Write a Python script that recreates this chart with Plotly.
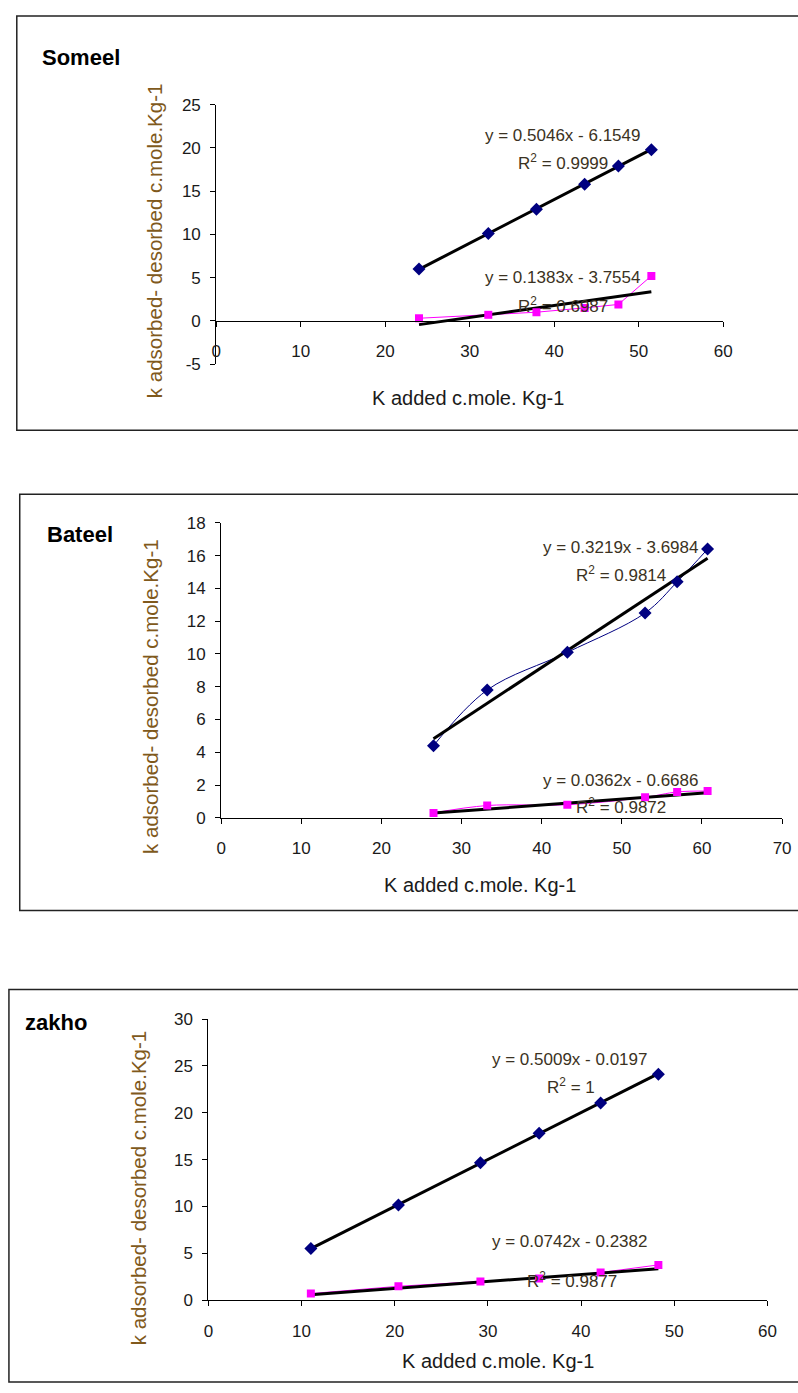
import plotly.graph_objects as go
import numpy as np

W, H = 798, 1393

# ---------------- data ----------------
panel_names = ["Someel", "Bateel", "zakho"]

someel_x = [24.0, 32.2, 37.9, 43.6, 47.6, 51.5]
someel_y1 = [6.0, 10.1, 12.9, 15.8, 17.9, 19.8]
someel_y2 = [0.3, 0.7, 1.0, 1.5, 1.9, 5.2]

bateel_x = [26.5, 33.2, 43.2, 52.9, 56.9, 60.7]
bateel_y1 = [4.4, 7.8, 10.1, 12.5, 14.4, 16.4]
bateel_y2 = [0.3, 0.75, 0.8, 1.25, 1.58, 1.63]

zakho_x = [11.0, 20.4, 29.2, 35.5, 42.1, 48.3]
zakho_y1 = [5.5, 10.15, 14.65, 17.8, 21.05, 24.1]
zakho_y2 = [0.7, 1.48, 2.0, 2.3, 2.95, 3.76]

# trendline coefficients (slope, intercept) and R² as printed
someel_fit1 = (0.5046, -6.1549, "0.9999")
someel_fit2 = (0.1383, -3.7554, "0.6987")
bateel_fit1 = (0.3219, -3.6984, "0.9814")
bateel_fit2 = (0.0362, -0.6686, "0.9872")
zakho_fit1 = (0.5009, -0.0197, "1")
zakho_fit2 = (0.0742, -0.2382, "0.9877")

x_title = "K added c.mole. Kg-1"
y_title = "k adsorbed- desorbed c.mole.Kg-1"

# ---------------- layout helpers ----------------
def px(x):
    return x / W

def py(y):
    return 1 - y / H

FONT = "Liberation Sans, Arial, sans-serif"
NAVY = "#000080"
MAGENTA = "#FF00FF"
TICK_COLOR = "#1a1a1a"
YT_COLOR = "#80591c"
EQ_COLOR = "#3b3222"

panels = [
    dict(name="Someel", x=someel_x, y1=someel_y1, y2=someel_y2,
         fit1=someel_fit1, fit2=someel_fit2, shape="linear",
         xdom=(215, 731), ydom=(97, 360), xr=(0, 60), xd=10, yr=(-5, 25), yd=5,
         xaxis_y=316,
         frame=(12, 7, 1000, 427),
         title_pos=(36, 49), xt_pos=(471, 394), yt_pos=(152, 235),
         eq1=(567, 128), r1=(568, 155), eq2=(567, 272), r2=(568, 300)),
    dict(name="Bateel", x=bateel_x, y1=bateel_y1, y2=bateel_y2,
         fit1=bateel_fit1, fit2=bateel_fit2, shape="spline",
         xdom=(220, 791), ydom=(521, 820), xr=(0, 70), xd=10, yr=(0, 18), yd=2,
         xaxis_y=None,
         frame=(15, 492, 1000, 914),
         title_pos=(41, 533), xt_pos=(483, 888), yt_pos=(148, 697),
         eq1=(626, 546), r1=(627, 573), eq2=(626, 782), r2=(627, 808)),
    dict(name="zakho", x=zakho_x, y1=zakho_y1, y2=zakho_y2,
         fit1=zakho_fit1, fit2=zakho_fit2, shape="linear",
         xdom=(207, 776), ydom=(1024, 1309), xr=(0, 60), xd=10, yr=(0, 30), yd=5,
         xaxis_y=None,
         frame=(4, 994, 1000, 1392),
         title_pos=(18, 1028), xt_pos=(502, 1371), yt_pos=(136, 1195),
         eq1=(575, 1065), r1=(576, 1092), eq2=(575, 1250), r2=(577, 1289)),
]

fig = go.Figure()
annotations = []
shapes = []

for i, p in enumerate(panels):
    n = "" if i == 0 else str(i + 1)
    xa, ya = "x" + n, "y" + n
    xs = np.array(p["x"])
    # series lines
    for ys, col in ((p["y1"], NAVY), (p["y2"], MAGENTA)):
        fig.add_trace(go.Scatter(x=xs, y=ys, mode="lines",
                                 line=dict(color=col, width=1, shape=p["shape"]),
                                 xaxis=xa, yaxis=ya, showlegend=False, hoverinfo="skip"))
    # trendlines
    for fit in (p["fit1"], p["fit2"]):
        m, b, _ = fit
        tx = np.array([xs.min(), xs.max()])
        fig.add_trace(go.Scatter(x=tx, y=m * tx + b, mode="lines",
                                 line=dict(color="black", width=3),
                                 xaxis=xa, yaxis=ya, showlegend=False, hoverinfo="skip"))
    # markers
    fig.add_trace(go.Scatter(x=xs, y=p["y1"], mode="markers",
                             marker=dict(symbol="diamond", size=10, color=NAVY),
                             xaxis=xa, yaxis=ya, showlegend=False))
    fig.add_trace(go.Scatter(x=xs, y=p["y2"], mode="markers",
                             marker=dict(symbol="square", size=8, color=MAGENTA),
                             xaxis=xa, yaxis=ya, showlegend=False))

    xticks = list(range(p["xr"][0], p["xr"][1] + 1, p["xd"]))
    yticks = list(range(p["yr"][0], p["yr"][1] + 1, p["yd"]))
    xaxis = dict(domain=[px(p["xdom"][0]), px(p["xdom"][1])], range=list(p["xr"]),
                 tickvals=xticks, ticktext=[str(v) for v in xticks],
                 showgrid=False, zeroline=False, showline=True, linecolor="black",
                 linewidth=1, ticks="outside", ticklen=5, tickcolor="black",
                 ticklabelstandoff=10,
                 tickfont=dict(family=FONT, size=17, color=TICK_COLOR),
                 anchor=ya, fixedrange=True)
    if p["xaxis_y"] is not None:
        xaxis.update(anchor="free", position=py(p["xaxis_y"]))
    yaxis = dict(domain=[py(p["ydom"][1]), py(p["ydom"][0])], range=list(p["yr"]),
                 tickvals=yticks, ticktext=[str(v) for v in yticks],
                 showgrid=False, zeroline=False, showline=True, linecolor="black",
                 linewidth=1, ticks="outside", ticklen=5, tickcolor="black",
                 ticklabelstandoff=6,
                 tickfont=dict(family=FONT, size=17, color=TICK_COLOR),
                 anchor=xa, fixedrange=True)
    fig.update_layout({"xaxis" + n: xaxis, "yaxis" + n: yaxis})

    # frame
    fx0, fy0, fx1, fy1 = p["frame"]
    shapes.append(dict(type="rect", xref="paper", yref="paper",
                       x0=px(fx0), x1=px(fx1), y0=py(fy1), y1=py(fy0),
                       line=dict(color="#222222", width=1.5)))

    def ann(text, pos, size, color, bold=False, angle=0, xanchor="center"):
        annotations.append(dict(text=("<b>%s</b>" % text) if bold else text,
                                x=px(pos[0]), y=py(pos[1]), xref="paper", yref="paper",
                                showarrow=False, xanchor=xanchor, yanchor="middle",
                                textangle=angle,
                                font=dict(family=FONT, size=size, color=color)))

    ann(p["name"], p["title_pos"], 22, "black", bold=True, xanchor="left")
    ann(x_title, p["xt_pos"], 20, TICK_COLOR)
    ann(y_title, p["yt_pos"], 20.5, YT_COLOR, angle=-90)
    for fit, epos, rpos in ((p["fit1"], p["eq1"], p["r1"]), (p["fit2"], p["eq2"], p["r2"])):
        m, b, r2 = fit
        sign = "-" if b < 0 else "+"
        ann("y = %.4fx %s %.4f" % (m, sign, abs(b)), epos, 17, EQ_COLOR)
        ann("R<sup>2</sup> = %s" % r2, rpos, 17, EQ_COLOR)

fig.update_layout(width=W, height=H, margin=dict(l=0, r=0, t=0, b=0),
                  paper_bgcolor="white", plot_bgcolor="rgba(0,0,0,0)",
                  annotations=annotations, shapes=shapes, showlegend=False)

fig.write_html("out.html", config={"displayModeBar": False},
               post_script="document.body.style.margin='0';document.body.style.overflow='hidden';")
